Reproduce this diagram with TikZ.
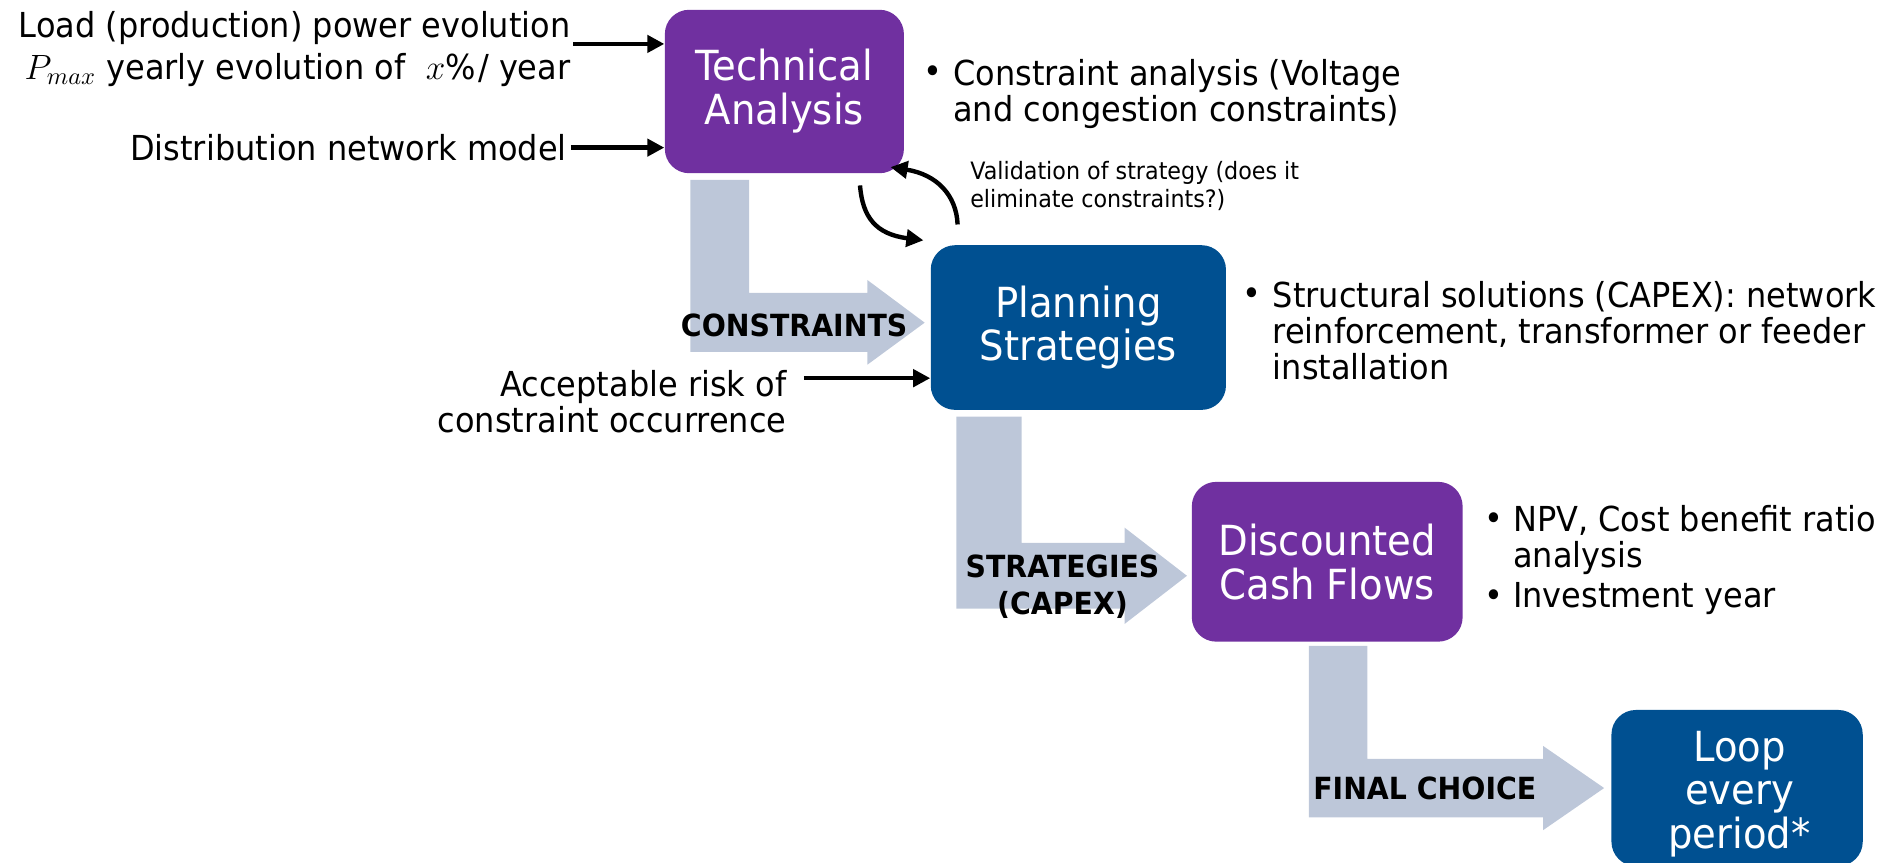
\documentclass[tikz,border=0pt]{standalone}
\usepackage{fontspec}
\setmainfont{DejaVu Sans}[FakeStretch=0.93]
\usetikzlibrary{arrows.meta}
\definecolor{tpurple}{RGB}{112,48,160}
\definecolor{tblue}{RGB}{0,80,145}
\definecolor{tgray}{RGB}{189,199,217}
\begin{document}
\begin{tikzpicture}[x={(0.5pt,0pt)},y={(0pt,-0.5pt)},
  box/.style={draw=none, rounded corners=10pt, inner sep=0pt, text=white, align=center,
    font=\fontsize{17}{18}\selectfont},
  txt/.style={inner sep=0pt, font=\fontsize{14.1}{14.8}\selectfont},
  smalltxt/.style={inner sep=0pt, align=left, font=\fontsize{9.8}{11.5}\selectfont},
  lbl/.style={inner sep=0pt, align=center, font=\bfseries\fontsize{12.5}{15}\selectfont},
  conn/.style={line width=1.8pt, -{Triangle[length=7pt,width=7pt]}},
  band/.style={fill=tgray}]
\path[use as bounding box] (0,0) rectangle (1560,707.4);

% grey bent arrows
\fill[band] (566,147.5) -- (614,147.5) -- (614,240) -- (711,240) -- (711,229.5) -- (758,264.5)
  -- (711,299) -- (711,288.5) -- (566,288.5) -- cycle;
\fill[band] (784,341.6) -- (837.5,341.6) -- (837.5,445) -- (922,445) -- (922,432.6) -- (973,472)
  -- (922,511.4) -- (922,499) -- (784,499) -- cycle;
\fill[band] (1073,529.5) -- (1121,529.5) -- (1121,622) -- (1265,622) -- (1265,611.5) -- (1315,646)
  -- (1265,680.5) -- (1265,670) -- (1073,670) -- cycle;

% boxes
\node[box, fill=tpurple, minimum width=98pt, minimum height=67pt] (ta) at (643,75) {Technical\\Analysis};
\node[box, fill=tblue, minimum width=121pt, minimum height=67.5pt] (ps) at (884,268.5) {Planning\\Strategies};
\node[box, fill=tpurple, minimum width=111pt, minimum height=65.5pt] (dcf) at (1088,460.5) {Discounted\\Cash Flows};
\node[box, fill=tblue, minimum width=103pt, minimum height=64pt] (loop) at (1424,646) {};
\node[box] (looptxt) at (1426,651) {Loop\\every\\period*};

% band labels
\node[lbl] (l1) at (651,267) {CONSTRAINTS};
\node[lbl] (l2) at (871,481) {STRATEGIES\\(CAPEX)};
\node[lbl] (l3) at (1168,646) {FINAL CHOICE};

% input texts
\node[txt, anchor=east] (in1) at (468,23) {Load (production) power evolution};
\node[txt, anchor=east] (in2) at (468,57) {$P_{max}$ yearly evolution of \ $x\%$/ year};
\node[txt, anchor=east] (in3) at (465,121) {Distribution network model};
\node[txt, anchor=east, align=right] (risk) at (645,329.5) {Acceptable risk of\\constraint occurrence};

% bullet texts
\node[txt] (d1) at (765,61) {•};
\node[txt, anchor=west, align=left] (b1) at (781,77) {Constraint analysis (Voltage\\and congestion constraints)};
\node[txt] (d2) at (1026,243) {•};
\node[txt, anchor=west, align=left] (b2) at (1043,271) {Structural solutions (CAPEX): network\\reinforcement, transformer or feeder\\installation};
\node[txt] (d3) at (1225,428) {•};
\node[txt, anchor=west, align=left] (b3) at (1240,442.5) {NPV, Cost benefit ratio\\analysis};
\node[txt] (d4) at (1225,491) {•};
\node[txt, anchor=west] (b4) at (1240,491) {Investment year};

\node[smalltxt, anchor=west] (val) at (795,152.5) {Validation of strategy (does it\\eliminate constraints?)};

% connectors
\coordinate (a1s) at (470,36);
\draw[conn] (a1s) -- (ta.west |- a1s);
\coordinate (a2s) at (468,121);
\draw[conn] (a2s) -- (ta.west |- a2s);
\coordinate (rs) at (659,310);
\draw[conn] (rs) -- (ps.west |- rs);
\coordinate (c1s) at (705,152);
\coordinate (c1e) at (757,197);
\draw[conn] (c1s) .. controls (707,178) and (718,192) .. (c1e);
\coordinate (c2s) at (785,184);
\coordinate (c2e) at (730,137);
\draw[conn] (c2s) .. controls (784,160) and (768,143) .. (c2e);
\end{tikzpicture}
\end{document}
